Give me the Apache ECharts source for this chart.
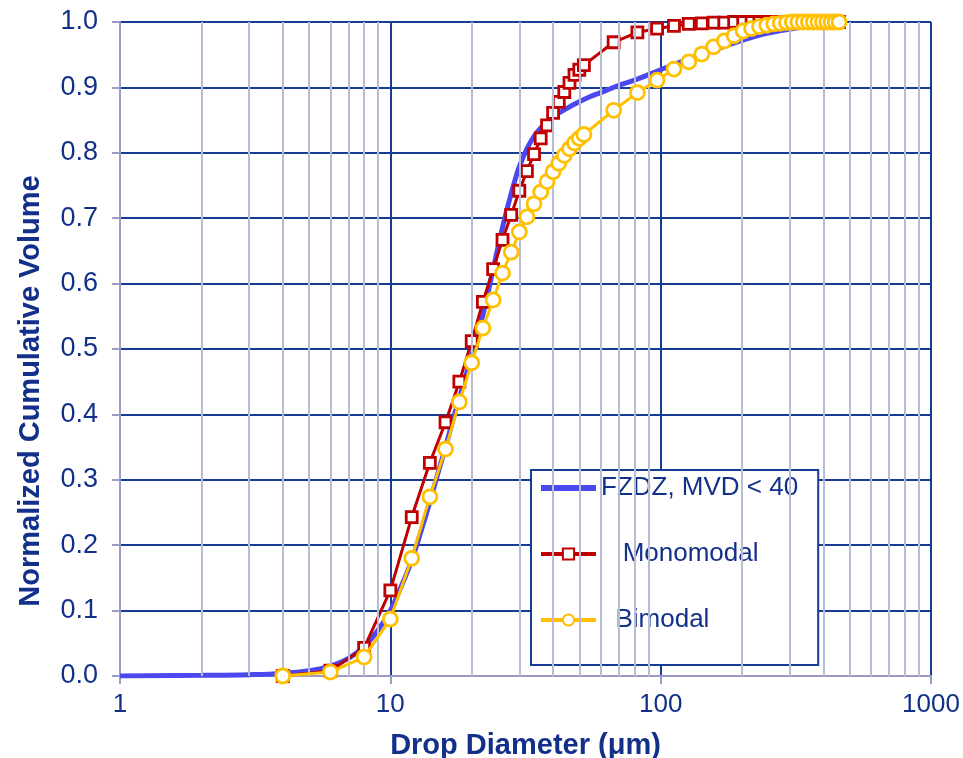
<!DOCTYPE html>
<html>
<head>
<meta charset="utf-8">
<script src="https://cdn.jsdelivr.net/npm/echarts@6/dist/echarts.min.js"></script>
<style>
html,body{margin:0;padding:0;background:#fff;}
#chart{width:963px;height:758px;}
</style>
</head>
<body>
<div id="chart"></div>
<script>
// ---- data ----
const binD = [4,6,8,10,12,14,16,18,20,22,24,26,28,30,32,34,36,38,40,42,44,46,48,50,52,
  67,82,97,112,127,142,157,172,187,202,217,232,247,262,277,292,307,322,337,352,367,382,397,412,427,442,457];
const monoV = [0,0.008,0.043,0.131,0.243,0.326,0.388,0.45,0.512,0.572,0.622,0.667,0.705,0.742,0.772,0.798,0.822,0.842,0.861,0.878,0.893,0.907,0.919,0.927,0.934,
  0.969,0.984,0.990,0.994,0.997,0.998,0.999,0.999,1,1,1,1,1,1,1,1,1,1,1,1,1,1,1,1,1,1,1];
const biV = [0,0.006,0.029,0.087,0.18,0.274,0.347,0.419,0.479,0.532,0.575,0.616,0.648,0.679,0.702,0.722,0.74,0.756,0.771,0.784,0.796,0.806,0.815,0.822,0.828,
  0.865,0.892,0.911,0.928,0.939,0.951,0.962,0.971,0.979,0.986,0.99,0.993,0.995,0.997,0.998,0.999,1,1,1,1,1,1,1,1,1,1,1];
const fzdzD = [1,2,3,4,5,6,7,8,9,10,11,12,13,14,15,16,17,18,19,20,21,22,23,24,25,26,27,28,29,30,32,34,36,38,40,45,50,55,60,70,80,100,130,160,200,250,330,400,460];
const fzdzV = [0,0.001,0.002,0.004,0.008,0.015,0.027,0.045,0.07,0.1,0.138,0.177,0.222,0.266,0.31,0.35,0.39,0.425,0.458,0.49,0.52,0.552,0.587,0.622,0.655,0.686,0.713,0.738,0.76,0.779,0.806,0.825,0.838,0.847,0.855,0.868,0.878,0.886,0.892,0.903,0.911,0.927,0.945,0.958,0.972,0.983,0.992,0.997,1.0];
const minorX = [2,3,4,5,6,7,8,9,20,30,40,50,60,70,80,90,200,300,400,500,600,700,800,900];
const seriesNames = ['FZDZ, MVD < 40','Monomodal','Bimodal'];
const xTitle = 'Drop Diameter (μm)';
const yTitle = 'Normalized Cumulative Volume';

const navy = '#12308a';
const major = '#163c96';
const minor = '#b9bcd3';
const axisGray = '#9a9cc4';
const font = 'Liberation Sans, Arial, sans-serif';
const blue = '#4b48f0', red = '#c00000', yellow = '#ffc000';

const zip = (a,b) => a.map((v,i)=>[v,b[i]]);

const chart = echarts.init(document.getElementById('chart'));
chart.setOption({
  animation:false,
  backgroundColor:'#fff',
  grid:{left:120,right:32,top:22,bottom:82,containLabel:false,outerBoundsMode:'none'},
  xAxis:{
    type:'log', logBase:10, min:1, max:1000,
    name:xTitle, nameLocation:'middle', nameGap:55,
    nameTextStyle:{color:navy,fontSize:29,fontWeight:'bold',fontFamily:font},
    axisLine:{lineStyle:{color:axisGray,width:2}},
    axisTick:{show:true,length:8,lineStyle:{color:axisGray,width:2}},
    axisLabel:{color:navy,fontSize:26,fontFamily:font,margin:16,formatter:v=>String(v)},
    splitLine:{show:true,lineStyle:{color:major,width:2}},
    minorTick:{show:false}
  },
  yAxis:{
    type:'value', min:0, max:1, interval:0.1,
    name:yTitle, nameLocation:'middle', nameGap:75, nameRotate:90,
    nameTextStyle:{color:navy,fontSize:29,fontWeight:'bold',fontFamily:font,padding:[0,84,0,0]},
    axisLine:{show:true,lineStyle:{color:axisGray,width:2}},
    axisTick:{show:true,length:8,lineStyle:{color:axisGray,width:2}},
    axisLabel:{color:navy,fontSize:27,fontFamily:font,margin:22,formatter:v=>v.toFixed(1)},
    splitLine:{show:true,lineStyle:{color:major,width:2}}
  },
  legend:{
    orient:'vertical', left:531, top:470,
    data:[
      {name:seriesNames[0], itemStyle:{opacity:0}, lineStyle:{width:6,color:blue}},
      {name:seriesNames[1], lineStyle:{width:4,color:red}},
      {name:seriesNames[2], lineStyle:{width:4,color:yellow}}
    ],
    itemWidth:55, itemHeight:14, itemGap:40,
    padding:[5,20,32,7],
    backgroundColor:'#fff', borderColor:major, borderWidth:2,
    textStyle:{color:navy,fontSize:26,fontFamily:font},
    formatter:n => n==='Monomodal' ? '   '+n : (n==='Bimodal' ? '  '+n : n)
  },
  series:[
    {
      name:'minor', type:'line', data:[], z:1, silent:true,
      markLine:{silent:true,symbol:'none',label:{show:false},animation:false,
        lineStyle:{color:minor,width:2,type:'solid'},
        data:minorX.map(v=>({xAxis:v}))}
    },
    {
      name:seriesNames[0], type:'line', data:zip(fzdzD,fzdzV), smooth:0.4,
      showSymbol:false, symbol:'none', z:3,
      lineStyle:{color:blue,width:5}, itemStyle:{color:blue}
    },
    {
      name:seriesNames[1], type:'line', data:zip(binD,monoV),
      symbol:'rect', symbolSize:11, z:4,
      lineStyle:{color:red,width:3},
      itemStyle:{color:'#ffffff',borderColor:red,borderWidth:2.8}
    },
    {
      name:seriesNames[2], type:'line', data:zip(binD,biV),
      symbol:'circle', symbolSize:14, z:5,
      lineStyle:{color:yellow,width:3},
      itemStyle:{color:'#ffffff',borderColor:yellow,borderWidth:2.8}
    }
  ]
});
</script>
</body>
</html>
